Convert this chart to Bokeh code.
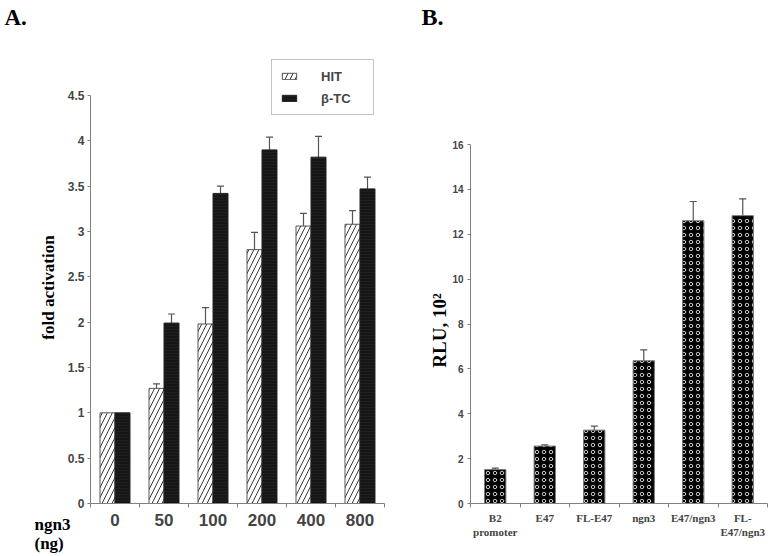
from bokeh.plotting import figure
from bokeh.layouts import row
from bokeh.models import (ColumnDataSource, FixedTicker, NumeralTickFormatter, Range1d,
                          Whisker, TeeHead, Legend, LegendItem, Label, Title)
from bokeh.embed import file_html
from bokeh.resources import INLINE

# ---------------- Panel A data ----------------
doses = ["0", "50", "100", "200", "400", "800"]
hit_mean = [1.0, 1.27, 1.98, 2.80, 3.06, 3.08]
hit_err = [0.0, 0.05, 0.18, 0.19, 0.14, 0.15]
btc_mean = [1.0, 1.99, 3.42, 3.90, 3.82, 3.47]
btc_err = [0.0, 0.10, 0.08, 0.14, 0.23, 0.13]
a_yticks = [0, 0.5, 1, 1.5, 2, 2.5, 3, 3.5, 4, 4.5]

# ---------------- Panel B data ----------------
constructs = ["B2\npromoter", "E47", "FL-E47", "ngn3", "E47/ngn3", "FL-\nE47/ngn3"]
rlu_mean = [1.51, 2.56, 3.27, 6.36, 12.6, 12.83]
rlu_err = [0.07, 0.05, 0.18, 0.49, 0.86, 0.75]
b_yticks = [0, 2, 4, 6, 8, 10, 12, 14, 16]

SANS = "Liberation Sans"
SERIF = "Liberation Serif"
AXIS_GREY = "#808080"
ERR_COL = "#555555"

# layout (pixels)
H = 556
TOP = 32          # frame top (both panels, rows align frames)
BOTTOM = 503      # frame bottom (x axes)
FRAME_H = BOTTOM - TOP
A_PX_PER_UNIT = (BOTTOM - 95) / 4.5     # 4.5 sits at y=95 in the reference
B_PX_PER_UNIT = (BOTTOM - 144) / 16.0   # 16 sits at y=144 in the reference

def style_common(p):
    p.xgrid.visible = False
    p.ygrid.visible = False
    p.outline_line_color = None
    p.background_fill_color = "white"
    p.border_fill_color = "white"
    for ax in (p.xaxis[0], p.yaxis[0]):
        ax.axis_line_color = AXIS_GREY
        ax.major_tick_line_color = AXIS_GREY
        ax.minor_tick_line_color = AXIS_GREY
        ax.major_tick_in = 0
        ax.minor_tick_in = 0

def whisk(p, xs, means, errs, size):
    keep = [i for i in range(len(xs)) if errs[i] > 0]
    s = ColumnDataSource(dict(base=[xs[i] for i in keep],
                              upper=[means[i] + errs[i] for i in keep],
                              lower=[means[i] - errs[i] for i in keep]))
    w = Whisker(base="base", upper="upper", lower="lower", source=s,
                line_color=ERR_COL, line_width=1.2,
                upper_head=TeeHead(size=size, line_color=ERR_COL, line_width=1.2),
                lower_head=TeeHead(size=size, line_color=ERR_COL, line_width=1.2))
    p.add_layout(w)

# ================= Panel A =================
n = len(doses)
xc = [i + 1 for i in range(n)]
off = 0.153
bw = 0.306
W1 = 421

titleA = Title(text="A.", align="left", offset=-86, vertical_align="top", standoff=2,
               text_font=SERIF, text_font_style="bold", text_font_size="23px",
               text_color="black")
p1 = figure(width=W1, height=H, x_range=Range1d(0.5, n + 0.5),
            y_range=Range1d(0, FRAME_H / A_PX_PER_UNIT),
            output_backend="svg", toolbar_location=None, title=titleA,
            min_border_left=90, min_border_right=W1 - 90 - 294,
            min_border_top=TOP, min_border_bottom=H - BOTTOM)
style_common(p1)

src_hit = ColumnDataSource(dict(x=[x - off for x in xc], top=hit_mean))
src_btc = ColumnDataSource(dict(x=[x + off for x in xc], top=btc_mean))

r_hit = p1.vbar(x="x", top="top", width=bw, source=src_hit, fill_color="white",
                hatch_pattern="/", hatch_color="#222222", hatch_scale=10, hatch_weight=0.9,
                line_color="#555555", line_width=1)
r_btc = p1.vbar(x="x", top="top", width=bw, source=src_btc, fill_color="#161616",
                hatch_pattern="horizontal_line", hatch_color="#2a2a2a", hatch_scale=3,
                hatch_weight=0.5, line_color="#222222", line_width=1)

whisk(p1, [x - off for x in xc], hit_mean, hit_err, 7)
whisk(p1, [x + off for x in xc], btc_mean, btc_err, 7)

ya = p1.yaxis[0]
ya.ticker = FixedTicker(ticks=a_yticks)
ya.bounds = (0, 4.5)
ya.formatter = NumeralTickFormatter(format="0.[0]")
ya.major_label_text_font = SANS
ya.major_label_text_font_style = "bold"
ya.major_label_text_font_size = "12px"
ya.major_tick_out = 3
ya.major_label_standoff = 3

# y-axis title as a rotated label in the left side panel (centred like the reference)
p1.add_layout(Label(x=3, y=BOTTOM - 287, x_units="screen", y_units="screen",
                    text="fold activation", angle=90, angle_units="deg",
                    text_align="center", text_baseline="middle",
                    text_font=SERIF, text_font_style="bold", text_font_size="17px",
                    text_color="black"), "left")

xa = p1.xaxis[0]
xa.ticker = FixedTicker(ticks=xc, minor_ticks=[x - 0.5 for x in xc] + [n + 0.5])
xa.major_label_overrides = {x: d for x, d in zip(xc, doses)}
xa.major_tick_out = 0
xa.minor_tick_out = 4
xa.major_label_text_font = SANS
xa.major_label_text_font_style = "bold"
xa.major_label_text_font_size = "17px"
xa.major_label_standoff = 6

legend = Legend(items=[LegendItem(label="HIT", renderers=[r_hit]),
                       LegendItem(label="β-TC", renderers=[r_btc])],
                location=(181, BOTTOM - 115), orientation="vertical")
legend.border_line_color = "#888888"
legend.border_line_width = 1
legend.background_fill_color = "white"
legend.background_fill_alpha = 1
legend.label_text_font = SANS
legend.label_text_font_style = "bold"
legend.label_text_font_size = "13px"
legend.glyph_width = 18
legend.glyph_height = 8
legend.label_height = 16
legend.label_width = 44
legend.label_standoff = 23
legend.spacing = 6
legend.padding = 8
legend.margin = 0
p1.add_layout(legend, "center")

# x-axis caption: lives in the right side panel (not clipped), shifted to the left corner
p1.add_layout(Label(x=34 - 384, y=-11, x_units="screen", y_units="screen", text="ngn3\n(ng)",
                    text_font=SERIF, text_font_style="bold", text_font_size="17px",
                    text_baseline="top", text_line_height=1.0, text_color="black"), "right")

# ================= Panel B =================
m = len(constructs)
xb = [i + 1 for i in range(m)]
W2 = 777 - W1
B_LEFT = 470 - W1
titleB = Title(text="B.", align="left", offset=-B_LEFT, vertical_align="top", standoff=1,
               text_font=SERIF, text_font_style="bold", text_font_size="24px",
               text_color="black")
p2 = figure(width=W2, height=H, x_range=Range1d(0.5, m + 0.5),
            y_range=Range1d(0, FRAME_H / B_PX_PER_UNIT),
            output_backend="svg", toolbar_location=None, title=titleB,
            min_border_left=B_LEFT, min_border_right=W2 - B_LEFT - 297,
            min_border_top=TOP, min_border_bottom=H - BOTTOM)
style_common(p2)

src_b = ColumnDataSource(dict(x=xb, top=rlu_mean))
p2.vbar(x="x", top="top", width=0.43, source=src_b, fill_color="black",
        hatch_pattern="ring", hatch_color="#c8c8c8", hatch_scale=7, hatch_weight=1,
        line_color="#777777", line_width=1)
whisk(p2, xb, rlu_mean, rlu_err, 7)

yb = p2.yaxis[0]
yb.ticker = FixedTicker(ticks=b_yticks)
yb.bounds = (0, 16)
yb.major_label_text_font = SANS
yb.major_label_text_font_style = "bold"
yb.major_label_text_font_size = "10px"
yb.major_tick_out = 3
yb.major_label_standoff = 4

p2.add_layout(Label(x=11, y=BOTTOM - 330, x_units="screen", y_units="screen",
                    text="RLU, 10²", angle=90, angle_units="deg",
                    text_align="center", text_baseline="middle",
                    text_font=SERIF, text_font_style="bold", text_font_size="19px",
                    text_color="black"), "left")

xbx = p2.xaxis[0]
xbx.ticker = FixedTicker(ticks=xb, minor_ticks=[x - 0.5 for x in xb] + [m + 0.5])
xbx.major_label_overrides = {x: c for x, c in zip(xb, constructs)}
xbx.major_tick_out = 0
xbx.minor_tick_out = 4
xbx.major_label_text_font = SERIF
xbx.major_label_text_font_style = "bold"
xbx.major_label_text_font_size = "11px"
xbx.major_label_standoff = 4

layout = row(p1, p2)
open("out.html", "w").write(file_html(layout, INLINE))
